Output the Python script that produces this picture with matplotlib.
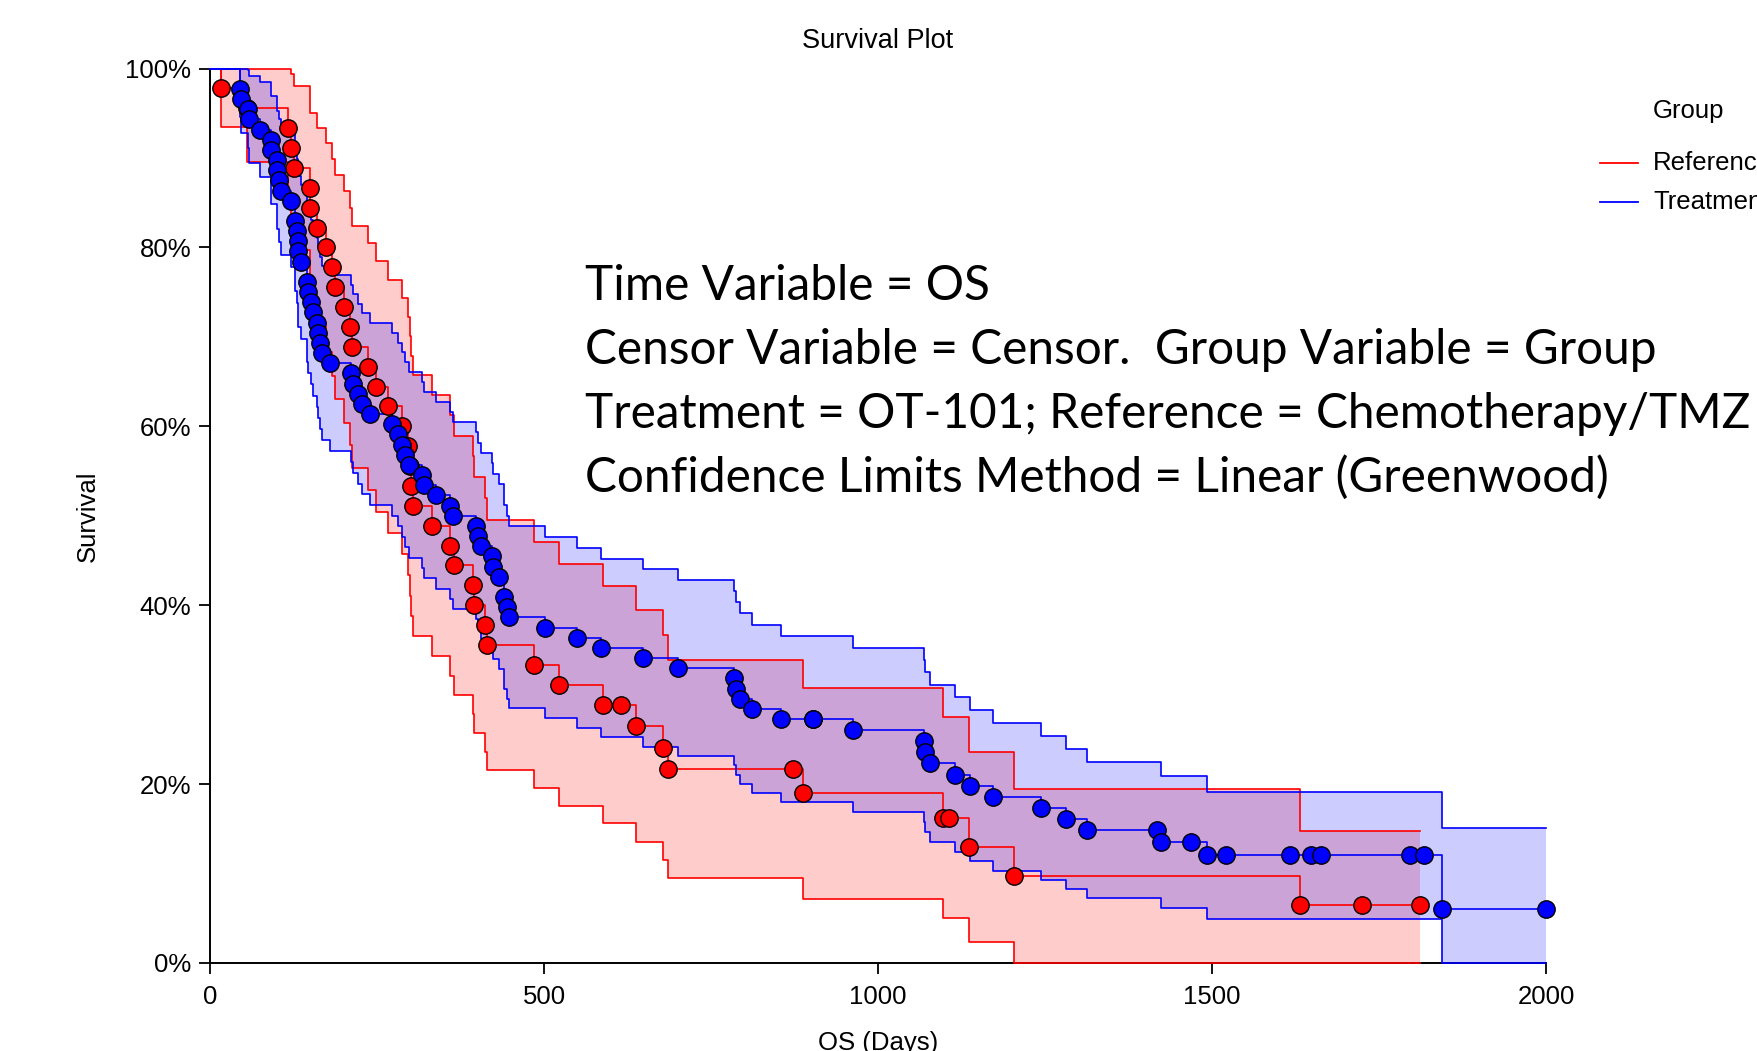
import matplotlib
matplotlib.use("Agg")
import matplotlib.pyplot as plt
from matplotlib.lines import Line2D

plt.rcParams["font.family"] = ["Liberation Sans", "DejaVu Sans"]

# Reference group (Chemotherapy/TMZ): one entry per observation, values in %
ref_time = [16, 55, 117, 121, 126, 149, 150, 160, 174, 183, 187, 200, 210, 212, 237,
            249, 266, 288, 297, 299, 301, 304, 333, 360, 365, 394, 395, 411, 415, 485,
            523, 588, 616, 637, 678, 685, 873, 887, 1097, 1107, 1136, 1204, 1631, 1724, 1812]
ref_surv = [97.78, 95.56, 93.33, 91.11, 88.89, 86.67, 84.44, 82.22, 80.00, 77.78,
            75.56, 73.33, 71.11, 68.89, 66.67, 64.44, 62.22, 60.00, 57.78, 55.56,
            53.33, 51.11, 48.89, 46.67, 44.44, 42.22, 40.00, 37.78, 35.56, 33.33,
            31.11, 28.89, 28.89, 26.48, 24.07, 21.67, 21.67, 18.96, 16.25, 16.25,
            13.00, 9.75, 6.50, 6.50, 6.50]
ref_lower = [93.47, 89.53, 86.04, 82.80, 79.71, 76.73, 73.85, 71.05, 68.31, 65.63,
             63.00, 60.41, 57.87, 55.36, 52.89, 50.46, 48.06, 45.69, 43.35, 41.04,
             38.76, 36.51, 34.28, 32.09, 29.93, 27.79, 25.69, 23.61, 21.57, 19.56,
             17.59, 15.65, 15.65, 13.53, 11.47, 9.47, 9.47, 7.19, 5.03, 5.03,
             2.37, 0.05, 0.00, 0.00, 0.00]
ref_upper = [100.0, 100.0, 100.0, 99.43, 98.07, 96.60, 95.03, 93.39, 91.69, 89.93,
             88.11, 86.25, 84.35, 82.42, 80.44, 78.43, 76.39, 74.31, 72.21, 70.07,
             67.91, 65.72, 63.49, 61.24, 58.96, 56.65, 54.31, 51.94, 49.54, 47.11,
             44.64, 42.13, 42.13, 39.43, 36.68, 33.87, 33.87, 30.73, 27.47, 27.47,
             23.63, 19.45, 14.80, 14.80, 14.80]

# Treatment group (OT-101)
trt_time = [45, 46, 57, 59, 75, 91, 92, 100, 101, 103, 107, 121, 127, 130, 131, 132,
            136, 145, 147, 151, 154, 160, 162, 165, 168, 180, 211, 214, 221, 227, 240,
            272, 282, 287, 292, 298, 317, 320, 339, 360, 364, 398, 401, 406, 422, 423,
            432, 440, 444, 448, 502, 549, 585, 648, 701, 784, 787, 794, 811, 855, 903,
            903, 962, 1069, 1071, 1078, 1115, 1137, 1172, 1244, 1281, 1313, 1417, 1424,
            1469, 1493, 1521, 1617, 1648, 1663, 1797, 1818, 1844, 2000]
trt_surv = [97.73, 96.59, 95.45, 94.32, 93.18, 92.05, 90.91, 89.77, 88.64, 87.50,
            86.36, 85.23, 82.95, 81.82, 80.68, 79.55, 78.41, 76.14, 75.00, 73.86,
            72.73, 71.59, 70.45, 69.32, 68.18, 67.05, 65.91, 64.77, 63.64, 62.50,
            61.36, 60.23, 59.09, 57.95, 56.82, 55.68, 54.55, 53.41, 52.27, 51.14,
            50.00, 48.86, 47.73, 46.59, 45.45, 44.32, 43.18, 40.91, 39.77, 38.64,
            37.50, 36.36, 35.23, 34.09, 32.95, 31.82, 30.68, 29.55, 28.41, 27.27,
            27.27, 27.27, 26.03, 24.79, 23.55, 22.31, 21.07, 19.84, 18.60, 17.36,
            16.12, 14.88, 14.88, 13.52, 13.52, 12.02, 12.02, 12.02, 12.02, 12.02,
            12.02, 12.02, 6.01, 6.01]
trt_lower = [94.61, 92.80, 91.10, 89.48, 87.92, 86.39, 84.90, 83.44, 82.01, 80.59,
             79.19, 77.81, 75.10, 73.76, 72.43, 71.12, 69.81, 67.23, 65.95, 64.68,
             63.42, 62.17, 60.92, 59.68, 58.45, 57.22, 56.01, 54.79, 53.59, 52.38,
             51.19, 50.00, 48.82, 47.64, 46.47, 45.30, 44.14, 42.99, 41.84, 40.69,
             39.55, 38.42, 37.29, 36.17, 35.05, 33.94, 32.83, 30.64, 29.55, 28.46,
             27.39, 26.31, 25.25, 24.19, 23.13, 22.09, 21.05, 20.01, 18.99, 17.97,
             17.97, 17.97, 16.84, 15.72, 14.62, 13.52, 12.44, 11.38, 10.32, 9.29,
             8.27, 7.26, 7.26, 6.16, 6.16, 4.91, 4.91, 4.91, 4.91, 4.91,
             4.91, 4.91, 0.00, 0.00]
trt_upper = [100.0, 100.0, 99.81, 99.16, 98.45, 97.70, 96.92, 96.10, 95.27, 94.41,
             93.53, 92.64, 90.81, 89.88, 88.93, 87.97, 87.01, 85.04, 84.05, 83.04,
             82.03, 81.01, 79.99, 78.95, 77.91, 76.87, 75.81, 74.75, 73.69, 72.62,
             71.54, 70.45, 69.36, 68.27, 67.17, 66.06, 64.95, 63.83, 62.71, 61.58,
             60.45, 59.31, 58.16, 57.01, 55.86, 54.70, 53.53, 51.18, 50.00, 48.81,
             47.62, 46.42, 45.21, 44.00, 42.78, 41.55, 40.32, 39.08, 37.83, 36.58,
             36.58, 36.58, 35.23, 33.86, 32.49, 31.11, 29.71, 28.30, 26.87, 25.42,
             23.97, 22.49, 22.49, 20.89, 20.89, 19.14, 19.14, 19.14, 19.14, 19.14,
             19.14, 19.14, 15.07, 15.07]

group_names = ["Reference", "Treatment"]
group_colors = ["#ff0000", "#0000ff"]

x_ticks = [0, 500, 1000, 1500, 2000]
y_ticks = [0, 20, 40, 60, 80, 100]
y_tick_labels = ["0%", "20%", "40%", "60%", "80%", "100%"]

info_lines = [
    "Time Variable = OS",
    "Censor Variable = Censor.  Group Variable = Group",
    "Treatment = OT-101; Reference = Chemotherapy/TMZ",
    "Confidence Limits Method = Linear (Greenwood)",
]

FS = 18.5
W, H = 1757, 1051


def from_start(times, values):
    # every curve starts at 100% at time zero
    return [0] + list(times), [100.0] + list(values)


fig = plt.figure(figsize=(W / 100, H / 100), dpi=100)
ax = fig.add_axes([210 / W, 1 - 963 / H, 1336 / W, 894.5 / H])

groups = [
    (ref_time, ref_surv, ref_lower, ref_upper),
    (trt_time, trt_surv, trt_lower, trt_upper),
]

# bands first, then step lines, then observation symbols
for (t, s, lo, hi), c in zip(groups, group_colors):
    tt, ll = from_start(t, lo)
    _, hh = from_start(t, hi)
    ax.fill_between(tt, ll, hh, step="post", color=c, alpha=0.2, linewidth=0, zorder=1)

for (t, s, lo, hi), c in zip(groups, group_colors):
    for vals in (lo, hi, s):
        tt, vv = from_start(t, vals)
        ax.step(tt, vv, where="post", color=c, lw=1.2, zorder=3, clip_on=False)

for i, ((t, s, lo, hi), c) in enumerate(zip(groups, group_colors)):
    ax.plot(t, s, "o", ms=12.5, mfc=c, mec="black", mew=1.0, zorder=4 + i, clip_on=False)

ax.set_xlim(0, 2000)
ax.set_ylim(0, 100)
ax.set_xticks(x_ticks)
ax.set_yticks(y_ticks)
ax.set_yticklabels(y_tick_labels)
ax.tick_params(direction="out", length=8, width=1.3, labelsize=FS, color="black")
ax.tick_params(axis="x", pad=7.5)
ax.tick_params(axis="y", pad=5.5)
for side in ("top", "right"):
    ax.spines[side].set_visible(False)
for side in ("left", "bottom"):
    ax.spines[side].set_linewidth(1.4)
    ax.spines[side].set_zorder(2.5)

ax.set_title("Survival Plot", fontsize=19.5, pad=15)
ax.set_xlabel("OS (Days)", fontsize=FS, va="center")
ax.xaxis.set_label_coords(0.5, (963 - 1043) / 894.5)
ax.set_ylabel("Survival", fontsize=FS, va="center")
ax.yaxis.set_label_coords((88 - 210) / 1336, 0.5)

# legend, drawn by hand at the right edge (cut by the figure edge as in the original)
fig.text(1689 / W, 1 - 111 / H, "Group", fontsize=FS, ha="center", va="center")
for name, c, y in zip(group_names, group_colors, [162.5, 201.7]):
    fig.add_artist(Line2D([1600 / W, 1638 / W], [1 - y / H, 1 - y / H], color=c, lw=1.3))
    fig.text(1653 / W, 1 - y / H, name, fontsize=FS, ha="left", va="center")

# annotation block, sized so the longest line spans the same width as the original
texts = []
for i, line in enumerate(info_lines):
    y = 300 + 64 * i
    texts.append(fig.text(585 / W, 1 - y / H, line, fontsize=36, family="Lato",
                          ha="left", va="baseline"))
fig.canvas.draw()
renderer = fig.canvas.get_renderer()
width = texts[2].get_window_extent(renderer=renderer).width
for tx in texts:
    tx.set_fontsize(36 * 1165 / width)

fig.savefig("out.png", dpi=100)
